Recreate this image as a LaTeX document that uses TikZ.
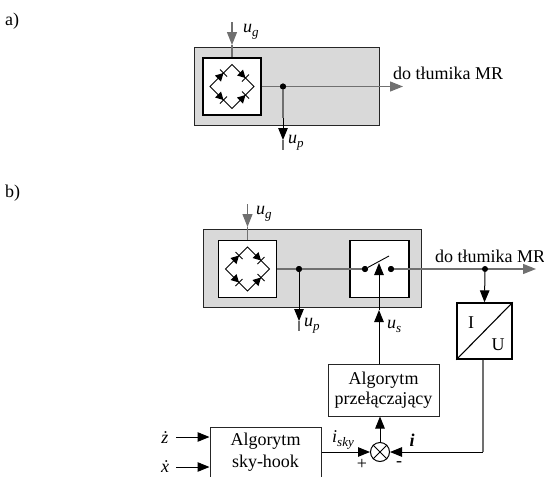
\documentclass[tikz,border=0pt]{standalone}
\usepackage{fontspec}
\setmainfont{Liberation Serif}
\usetikzlibrary{arrows.meta}
\definecolor{panel}{RGB}{217,217,217}
\definecolor{wire}{RGB}{112,112,112}
\newcommand{\lowsub}[1]{\raisebox{-4pt}{\fontsize{13}{13}\selectfont\textit{#1}}}
\tikzset{
  x=1pt,y=-1pt,
  lbl/.style={inner sep=0pt,font=\fontsize{18}{20}\selectfont},
  panelbox/.style={draw=black!85,fill=panel,line width=0.8pt,inner sep=0pt},
  whitebox/.style={draw=black,fill=white,line width=1.3pt,inner sep=0pt},
  algbox/.style={draw=black!85,fill=white,line width=1pt,inner sep=0pt,align=center,font=\fontsize{18}{20}\selectfont},
  gw/.style={draw=wire,line width=1.2pt},
  bw/.style={draw=black,line width=1pt},
  garrow/.style={gw,-{Triangle[length=13pt,width=10pt]}},
  barrow/.style={bw,-{Triangle[length=12pt,width=9.5pt]}},
  jdot/.style={circle,fill=black,inner sep=0pt,minimum size=6pt},
}
\newcommand{\mybridge}[2]{%
  \begin{scope}[shift={(#1,#2)}]
    \draw[line width=0.8pt] (0,-22) -- (22,0) -- (0,22) -- (-22,0) -- cycle;
    \foreach \cx/\cy/\ux/\uy in {-11/-11/1/-1,11/-11/1/1,-11/11/1/1,11/11/1/-1}{
      \fill ({\cx-3*\ux-3*\uy},{\cy-3*\uy+3*\ux}) -- ({\cx-3*\ux+3*\uy},{\cy-3*\uy-3*\ux}) -- ({\cx+2.5*\ux},{\cy+2.5*\uy}) -- cycle;
      \draw[line width=0.8pt] ({\cx+2.5*\ux-3.5*\uy},{\cy+2.5*\uy+3.5*\ux}) -- ({\cx+2.5*\ux+3.5*\uy},{\cy+2.5*\uy-3.5*\ux});
    }
  \end{scope}}
\begin{document}
\begin{tikzpicture}
\useasboundingbox (0,0) rectangle (544,477);
\begin{scope}
\clip (0,0) rectangle (544,477);
% part a
\node[lbl,anchor=west] (la) at (5,21) {a)};
\node[panelbox,minimum width=185pt,minimum height=78pt] (pa) at (286.5,86) {};
\node[whitebox,minimum width=58pt,minimum height=57pt] (ra) at (232,86.5) {};
\mybridge{232}{86.5}
\coordinate (ugasrc) at (232,22);
\coordinate (ugatip) at (232,45);
\draw[garrow] (ugasrc) -- (ugatip);
\draw[gw] (ugatip) -- (ra.north);
\node[lbl,anchor=west] (uga) at (243,32) {\textit{u}\lowsub{g}};
\coordinate (outa) at (403,86.5);
\draw[garrow] (ra.east) -- (outa);
\node[lbl,anchor=west] (doa) at (393,73) {do tłumika MR};
\node[jdot] (ja) at (283,86.5) {};
\coordinate (upatip) at (283,140);
\coordinate (upaend) at (283,150);
\draw[gw] (ja) -- (283,118);
\draw[barrow] (283,118) -- (upatip);
\draw[gw] (upatip) -- (upaend);
\fill (ja) circle (3pt);
\node[lbl,anchor=west] (upa) at (288,143) {\textit{u}\lowsub{p}};
% part b
\node[lbl,anchor=west] (lb) at (5,193) {b)};
\node[panelbox,minimum width=218pt,minimum height=78pt] (pb) at (312,268) {};
\node[whitebox,minimum width=58pt,minimum height=57pt] (rb) at (247.5,269) {};
\mybridge{247.5}{269}
\node[whitebox,minimum width=59pt,minimum height=57pt] (sw) at (379.5,269) {};
\coordinate (ugbsrc) at (247.5,204);
\coordinate (ugbtip) at (247.5,227);
\draw[garrow] (ugbsrc) -- (ugbtip);
\draw[gw] (ugbtip) -- (rb.north);
\node[lbl,anchor=west] (ugb) at (256,214) {\textit{u}\lowsub{g}};
\node[jdot] (jb) at (299,269) {};
\node[jdot] (s1) at (365,269) {};
\node[jdot] (s2) at (391,269) {};
\draw[gw] (rb.east) -- (s1);
\draw[bw,line width=0.9pt] (s1) -- (389,256);
\coordinate (outb) at (536,269);
\draw[garrow] (s2) -- (outb);
\coordinate (upbtip) at (299,321);
\coordinate (upbend) at (299,331);
\draw[barrow] (jb) -- (upbtip);
\draw[gw] (upbtip) -- (upbend);
\fill (jb) circle (3pt) (s1) circle (3pt) (s2) circle (3pt);
\node[lbl,anchor=west] (upb) at (304,326) {\textit{u}\lowsub{p}};
\node[lbl,anchor=west] (dob) at (435,256) {do tłumika MR};
\node[jdot] (jc) at (485,269) {};
\node[draw=black,fill=white,line width=1.3pt,inner sep=0pt,minimum width=55pt,minimum height=56pt] (iu) at (484.5,331) {};
\draw[line width=1.1pt] (iu.south west) -- (iu.north east);
\node[lbl] (ti) at (471,323) {I};
\node[lbl] (tu) at (498,345) {U};
\draw[barrow] (jc) -- (iu.north);
\node[algbox,minimum width=111pt,minimum height=52pt] (alg) at (383.5,390) {Algorytm\\[0pt]przełączający};
\coordinate (ustip) at (379,310);
\coordinate (usin) at (379,263);
\draw[barrow] (alg.north -| ustip) -- (ustip);
\draw[barrow] (ustip) -- (usin);
\node[lbl,anchor=west] (usl) at (387,326) {\textit{u}\lowsub{s}};
\node[circle,draw=black,fill=white,line width=1pt,minimum size=19pt,inner sep=0pt] (sum) at (380,452) {};
\draw[line width=0.8pt] (sum.north west) -- (sum.south east) (sum.north east) -- (sum.south west);
\draw[barrow] (sum.north) -- (alg.south -| sum);
\node[draw=black!85,fill=white,line width=1pt,minimum width=111pt,minimum height=70pt,inner sep=0pt] (sky) at (265.5,462) {};
\node[lbl] (t1) at (265.5,441) {Algorytm};
\node[lbl] (t2) at (265.5,463) {sky-hook};
\draw[barrow] (sky.east |- sum) -- (sum.west);
\coordinate (cor) at (483,452);
\draw[gw] (iu.south -| cor) -- (cor);
\draw[barrow] (cor) -- (sum.east);
\node[lbl] (isk) at (343,440) {\textit{i}\lowsub{sky}};
\node[lbl] (itx) at (412,440) {\textit{\textbf{i}}};
\node[lbl] (pl) at (362,464) {+};
\node[lbl] (mi) at (399,464) {-};
\node[lbl] (zd) at (165,438) {\textit{ż}};
\node[lbl] (xd) at (165,467) {\textit{\.{x}}};
\coordinate (zs) at (176,437);
\coordinate (xs) at (176,467);
\draw[barrow] (zs) -- (sky.west |- zs);
\draw[barrow] (xs) -- (sky.west |- xs);
\end{scope}
\end{tikzpicture}
\end{document}
